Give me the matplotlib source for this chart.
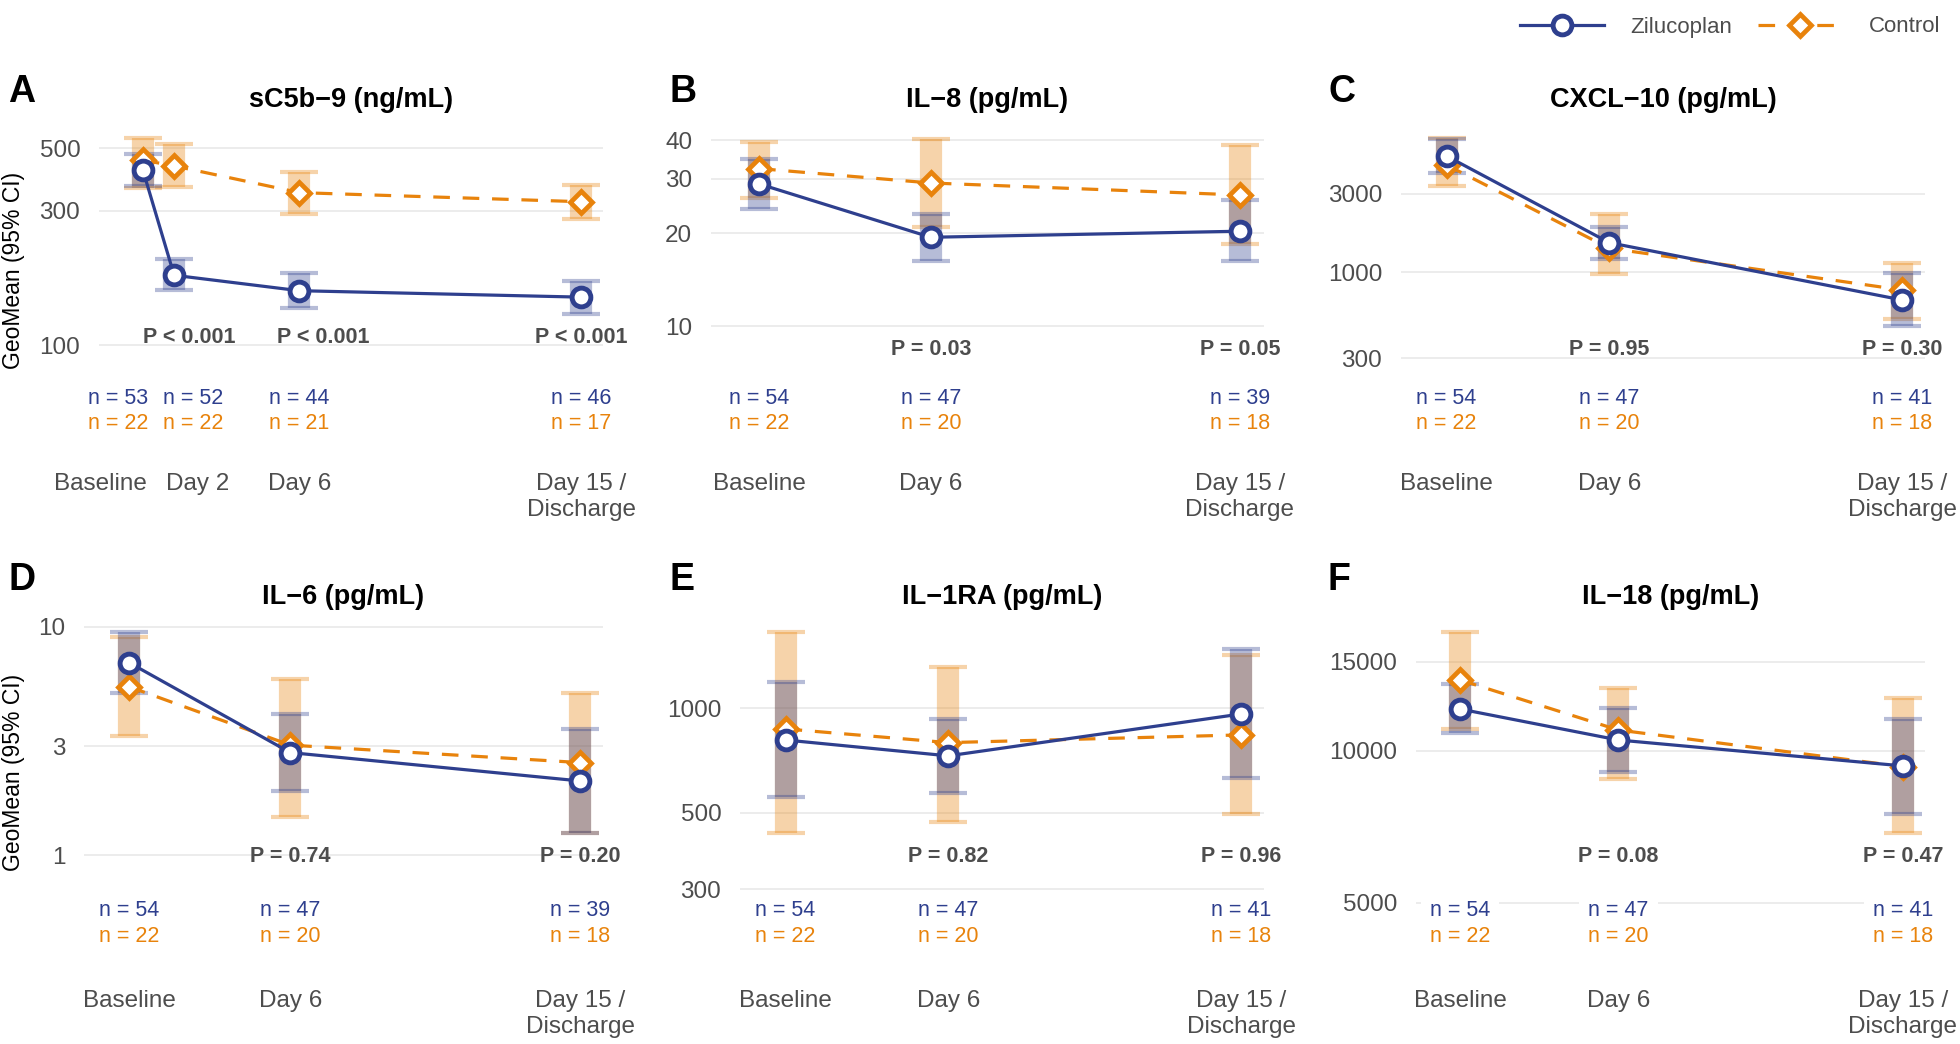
import matplotlib
matplotlib.use("Agg")
import matplotlib.pyplot as plt
import matplotlib.transforms as mtransforms
from matplotlib.lines import Line2D
from matplotlib.ticker import NullLocator
import numpy as np

#%% fonts / colours
plt.rcParams["font.family"] = ["Liberation Sans", "DejaVu Sans"]

BLUE = "#2E3F8E"
ORANGE = "#E8830C"
GREY = "#4D4D4D"
GRID = "#EBEBEB"
W, H = 1960, 1044

#%% data (geometric means and 95% CI)
days_a = [1, 2, 6, 15]
labels_a = ["Baseline", "Day 2", "Day 6", "Day 15 /\nDischarge"]
days = [1, 6, 15]
labels = ["Baseline", "Day 6", "Day 15 /\nDischarge"]

sc5b9_zil = [419, 177, 156, 148]
sc5b9_zil_lo = [367, 157, 135, 129]
sc5b9_zil_hi = [477, 202, 181, 169]
sc5b9_ctl = [454, 433, 348, 323]
sc5b9_ctl_lo = [361, 365, 292, 281]
sc5b9_ctl_hi = [545, 517, 413, 370]
sc5b9_n_zil = [53, 52, 44, 46]
sc5b9_n_ctl = [22, 22, 21, 17]
sc5b9_p = ["P < 0.001", "P < 0.001", "P < 0.001"]

il8_zil = [28.9, 19.4, 20.3]
il8_zil_lo = [23.9, 16.2, 16.2]
il8_zil_hi = [34.9, 23.0, 25.6]
il8_ctl = [32.4, 29.1, 26.6]
il8_ctl_lo = [26.1, 21.0, 18.4]
il8_ctl_hi = [39.6, 40.5, 38.6]
il8_n_zil = [54, 47, 39]
il8_n_ctl = [22, 20, 18]
il8_p = ["P = 0.03", "P = 0.05"]

cxcl10_zil = [5108, 1516, 679]
cxcl10_zil_lo = [4010, 1207, 472]
cxcl10_zil_hi = [6460, 1897, 988]
cxcl10_ctl = [4503, 1402, 781]
cxcl10_ctl_lo = [3369, 974, 518]
cxcl10_ctl_hi = [6549, 2266, 1136]
cxcl10_n_zil = [54, 47, 41]
cxcl10_n_ctl = [22, 20, 18]
cxcl10_p = ["P = 0.95", "P = 0.30"]

il6_zil = [6.96, 2.81, 2.11]
il6_zil_lo = [5.14, 1.91, 1.25]
il6_zil_hi = [9.51, 4.13, 3.56]
il6_ctl = [5.46, 3.03, 2.54]
il6_ctl_lo = [3.33, 1.46, 1.25]
il6_ctl_hi = [9.04, 5.90, 5.14]
il6_n_zil = [54, 47, 39]
il6_n_ctl = [22, 20, 18]
il6_p = ["P = 0.74", "P = 0.20"]

il1ra_zil = [810, 729, 963]
il1ra_zil_lo = [556, 571, 628]
il1ra_zil_hi = [1193, 931, 1483]
il1ra_ctl = [872, 796, 838]
il1ra_ctl_lo = [438, 471, 496]
il1ra_ctl_hi = [1664, 1318, 1425]
il1ra_n_zil = [54, 47, 41]
il1ra_n_ctl = [22, 20, 18]
il1ra_p = ["P = 0.82", "P = 0.96"]

il18_zil = [12090, 10500, 9330]
il18_zil_lo = [10830, 9090, 7490]
il18_zil_hi = [13560, 12160, 11550]
il18_ctl = [13800, 10990, 9300]
il18_ctl_lo = [11040, 8790, 6880]
il18_ctl_hi = [17200, 13330, 12700]
il18_n_zil = [54, 47, 41]
il18_n_ctl = [22, 20, 18]
il18_p = ["P = 0.08", "P = 0.47"]

#%% panel layout (pixel boxes: left, top, right, bottom)
panels = [
    dict(letter="A", lx=8, title="sC5b\u22129 (ng/mL)", box=(99, 124, 603, 440), ylim=(46, 610),
         yticks=[100, 300, 500], x=days_a, xlab=labels_a, tickx=[-0.34, 2.74, 6, 15],
         nx=[0.22, 2.61, 6, 15],
         zil=(sc5b9_zil, sc5b9_zil_lo, sc5b9_zil_hi), ctl=(sc5b9_ctl, sc5b9_ctl_lo, sc5b9_ctl_hi),
         n=(sc5b9_n_zil, sc5b9_n_ctl), p=sc5b9_p, px=[2.49, 6.77, 15], py=0.325),
    dict(letter="B", lx=669, title="IL\u22128 (pg/mL)", box=(711, 124, 1264, 440), ylim=(4.27, 45.2),
         yticks=[10, 20, 30, 40], x=days, xlab=labels,
         zil=(il8_zil, il8_zil_lo, il8_zil_hi), ctl=(il8_ctl, il8_ctl_lo, il8_ctl_hi),
         n=(il8_n_zil, il8_n_ctl), p=il8_p, px=[6, 15], py=0.287),
    dict(letter="C", lx=1329, title="CXCL\u221210 (pg/mL)", box=(1401, 124, 1925, 440), ylim=(95.4, 8000),
         yticks=[300, 1000, 3000], x=days, xlab=labels,
         zil=(cxcl10_zil, cxcl10_zil_lo, cxcl10_zil_hi), ctl=(cxcl10_ctl, cxcl10_ctl_lo, cxcl10_ctl_hi),
         n=(cxcl10_n_zil, cxcl10_n_ctl), p=cxcl10_p, px=[6, 15], py=0.287),
    dict(letter="D", lx=8, title="IL\u22126 (pg/mL)", box=(84, 619, 603, 954), ylim=(0.3685, 10.81),
         yticks=[1, 3, 10], x=days, xlab=labels,
         zil=(il6_zil, il6_zil_lo, il6_zil_hi), ctl=(il6_ctl, il6_ctl_lo, il6_ctl_hi),
         n=(il6_n_zil, il6_n_ctl), p=il6_p, px=[6, 15], py=0.29),
    dict(letter="E", lx=669, title="IL\u22121RA (pg/mL)", box=(740, 619, 1264, 954), ylim=(195.4, 1810),
         yticks=[300, 500, 1000], x=days, xlab=labels,
         zil=(il1ra_zil, il1ra_zil_lo, il1ra_zil_hi), ctl=(il1ra_ctl, il1ra_ctl_lo, il1ra_ctl_hi),
         n=(il1ra_n_zil, il1ra_n_ctl), p=il1ra_p, px=[6, 15], py=0.29),
    dict(letter="F", lx=1327, title="IL\u221218 (pg/mL)", box=(1416, 619, 1925, 954), ylim=(3958, 18230),
         yticks=[5000, 10000, 15000], x=days, xlab=labels,
         zil=(il18_zil, il18_zil_lo, il18_zil_hi), ctl=(il18_ctl, il18_ctl_lo, il18_ctl_hi),
         n=(il18_n_zil, il18_n_ctl), p=il18_p, px=[6, 15], py=0.29),
]

DASH = (0, (5.2, 4))
fig = plt.figure(figsize=(W / 100, H / 100), dpi=100)

for i, pn in enumerate(panels):
    l, t, r, b = pn["box"]
    ax = fig.add_axes([l / W, 1 - b / H, (r - l) / W, (b - t) / H])
    x = pn["x"]

    for (val, lo, hi), col, z in [(pn["ctl"], ORANGE, 2), (pn["zil"], BLUE, 2.1)]:
        val, lo, hi = np.array(val), np.array(lo), np.array(hi)
        ax.errorbar(x, val, yerr=[val - lo, hi - val], fmt="none", ecolor=col, alpha=0.35,
                    elinewidth=16, capsize=14, capthick=3, zorder=z)

    ax.plot(x, pn["ctl"][0], color=ORANGE, lw=2.3, ls=DASH, marker="D", ms=11.5,
            mew=3.4, mfc="white", mec=ORANGE, zorder=3)
    ax.plot(x, pn["zil"][0], color=BLUE, lw=2.3, marker="o", ms=13.5, mew=3.5,
            mfc="white", mec=BLUE, zorder=4)

    ax.set_yscale("log")
    ax.set_ylim(*pn["ylim"])
    ax.set_yticks(pn["yticks"])
    ax.set_yticklabels([str(v) for v in pn["yticks"]])
    ax.yaxis.set_minor_locator(NullLocator())
    ax.set_xlim(-0.4, 15.7)
    ax.set_xticks(pn.get("tickx", x))
    ax.set_xticklabels(pn["xlab"])
    ax.tick_params(axis="both", length=0, labelsize=17.5, labelcolor=GREY)
    ax.tick_params(axis="y", pad=13.5)
    ax.tick_params(axis="x", pad=24 if i < 3 else 26)
    ax.grid(axis="y", color=GRID, lw=1.3)
    ax.set_axisbelow(True)
    for s in ax.spines.values():
        s.set_visible(False)

    trans = mtransforms.blended_transform_factory(ax.transData, ax.transAxes)
    for xi, nz, nc in zip(pn.get("nx", x), pn["n"][0], pn["n"][1]):
        ax.text(xi, 0.131, f"n = {nz}", transform=trans, ha="center", va="center",
                fontsize=15.5, color=BLUE, zorder=5,
                bbox=dict(boxstyle="square,pad=0.42", fc="white", ec="none"))
        ax.text(xi, 0.053, f"n = {nc}", transform=trans, ha="center", va="center",
                fontsize=15.5, color=ORANGE, zorder=6)
    for xi, ptxt in zip(pn["px"], pn["p"]):
        ax.text(xi, pn["py"], ptxt, transform=trans, ha="center", va="center",
                fontsize=15.5, fontweight="bold", color=GREY, zorder=6)

    title_y = 100 if i < 3 else 597
    fig.text((l + r) / 2 / W, 1 - title_y / H, pn["title"], ha="center", va="center",
             fontsize=19.5, fontweight="bold", color="black")
    letter_y = 92 if i < 3 else 580
    fig.text(pn["lx"] / W, 1 - letter_y / H, pn["letter"], ha="left", va="center",
             fontsize=27, fontweight="bold", color="black")

for yc in [270, 772]:
    fig.text(13.5 / W, 1 - yc / H, "GeoMean (95% CI)", rotation=90, ha="center", va="center",
             fontsize=16.5, color="black")

handles = [
    Line2D([], [], color=BLUE, lw=2.3, marker="o", ms=13.5, mew=3.5, mfc="white", mec=BLUE),
    Line2D([], [], color=ORANGE, lw=2.3, ls=DASH, marker="D", ms=11.5, mew=3.4,
           mfc="white", mec=ORANGE),
]
fig.legend(handles, ["Zilucoplan", "Control"], loc="center right",
           bbox_to_anchor=(1940 / W, 1 - 27 / H), ncol=2, frameon=False, fontsize=16,
           labelcolor=GREY, handlelength=3.8, handletextpad=1.17, columnspacing=1.17,
           borderpad=0, borderaxespad=0)

fig.savefig("out.png", dpi=100)
